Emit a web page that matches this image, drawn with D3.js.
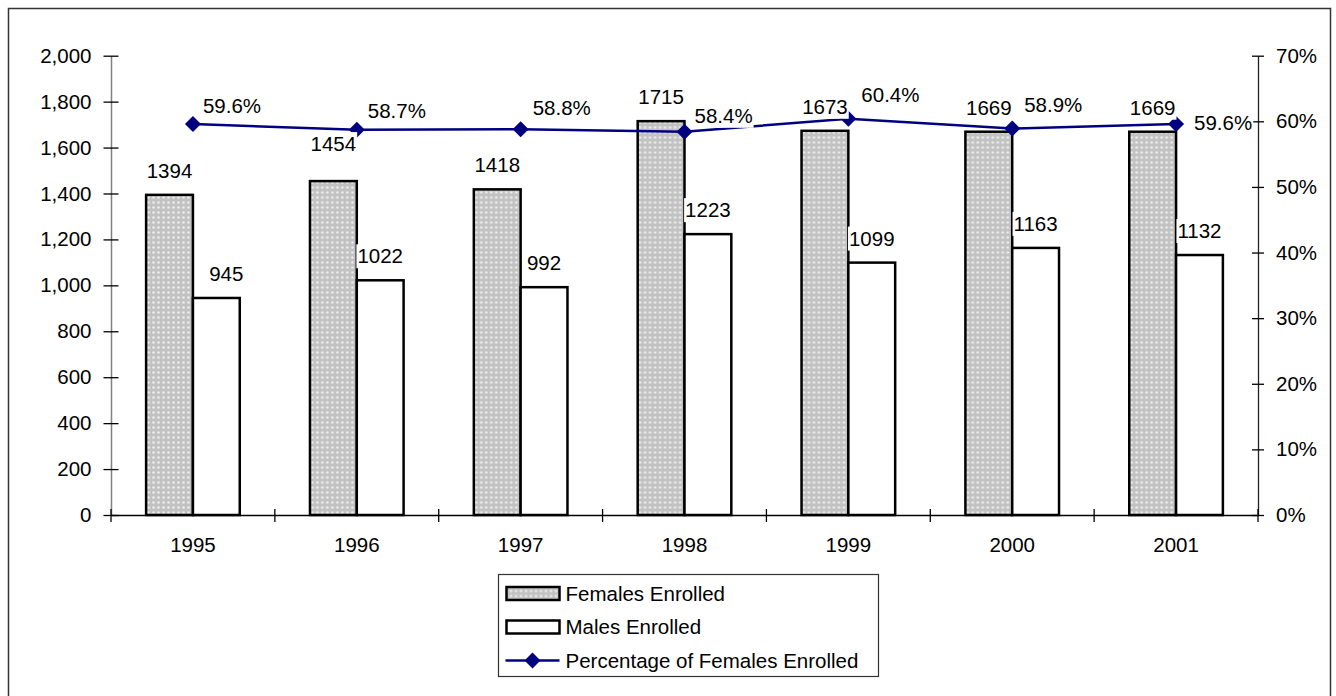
<!DOCTYPE html>
<html lang="en">
<head>
<meta charset="UTF-8">
<script src="https://d3js.org/d3.v7.min.js"></script>
<style>
body {
  margin: 0;
  background: white;
}
text {
  font-family: "Liberation Sans", Arial, sans-serif;
  font-size: 20.5px;
  fill: black;
}
</style>
</head>
<body>
<div id="chart"></div>
<script>

// data
var years = ["1995", "1996", "1997", "1998", "1999", "2000", "2001"];
var females = [1394, 1454, 1418, 1715, 1673, 1669, 1669];
var males = [945, 1022, 992, 1223, 1099, 1163, 1132];
var pctFemales = [59.6, 58.7, 58.8, 58.4, 60.4, 58.9, 59.6];
var leftTicks = [0, 200, 400, 600, 800, 1000, 1200, 1400, 1600, 1800, 2000];
var rightTicks = [0, 10, 20, 30, 40, 50, 60, 70];
var legendNames = ["Females Enrolled", "Males Enrolled", "Percentage of Females Enrolled"];

// hand moved labels in the original (index -> [dx, dy])
var femaleNudge = {1: [0, -13]};
var maleNudge = {0: [10, 0]};
var pctNudge = [[10, -11], [11, -12], [12, -14], [10, -9], [13, -17], [12, -17], [18, 6]];

var W = 1336, H = 696;
var plot = {left: 111, right: 1258, top: 55.7, bottom: 515};

var svg = d3.select("#chart").append("svg")
    .attr("width", W)
    .attr("height", H);

var defs = svg.append("defs");
var pat = defs.append("pattern")
    .attr("id", "dots")
    .attr("patternUnits", "userSpaceOnUse")
    .attr("width", 5)
    .attr("height", 5);
pat.append("rect").attr("width", 5).attr("height", 5).attr("fill", "#c2c2c2");
pat.append("circle").attr("cx", 2.5).attr("cy", 2.5).attr("r", 1.3).attr("fill", "#ededed");

// outer frame
svg.append("rect")
    .attr("x", 8.5).attr("y", 8.5)
    .attr("width", 1322).attr("height", 700)
    .attr("fill", "white")
    .attr("stroke", "#333")
    .attr("stroke-width", 1.5);

var x = d3.scaleBand().domain(years).range([plot.left, plot.right]).padding(0);
var x1 = d3.scaleBand().domain(["f", "m"]).range([0, x.bandwidth()]).paddingInner(0).paddingOuter(0.75);
var y = d3.scaleLinear().domain([0, 2000]).range([plot.bottom, plot.top]);
var y2 = d3.scaleLinear().domain([0, 70]).range([plot.bottom, plot.top]);

// bars
var groups = svg.append("g").selectAll("g")
    .data(years)
    .join("g")
    .attr("transform", function(d) { return "translate(" + x(d) + ",0)"; });

groups.append("rect")
    .attr("x", x1("f"))
    .attr("y", function(d, i) { return y(females[i]); })
    .attr("width", x1.bandwidth())
    .attr("height", function(d, i) { return y(0) - y(females[i]); })
    .attr("fill", "url(#dots)")
    .attr("stroke", "black")
    .attr("stroke-width", 2.5);

groups.append("rect")
    .attr("x", x1("m"))
    .attr("y", function(d, i) { return y(males[i]); })
    .attr("width", x1.bandwidth())
    .attr("height", function(d, i) { return y(0) - y(males[i]); })
    .attr("fill", "white")
    .attr("stroke", "black")
    .attr("stroke-width", 2.5);

// left axis
var yAxis = svg.append("g")
    .attr("transform", "translate(" + plot.left + ",0)")
    .call(d3.axisLeft(y).tickValues(leftTicks).tickFormat(d3.format(",")).tickSize(7.5).tickSizeOuter(0).tickPadding(12));
yAxis.select(".domain").attr("stroke", "#808080").attr("stroke-width", 1.5);
yAxis.selectAll(".tick line").attr("x1", -7.5).attr("x2", 7.5).attr("stroke", "black").attr("stroke-width", 1.3);
yAxis.selectAll(".tick text").style("font-size", "20.5px").style("font-family", "Liberation Sans, Arial, sans-serif");

// right axis
var y2Axis = svg.append("g")
    .attr("transform", "translate(" + plot.right + ",0)")
    .call(d3.axisRight(y2).tickValues(rightTicks).tickFormat(function(d) { return d + "%"; }).tickSize(6).tickSizeOuter(0).tickPadding(12));
y2Axis.select(".domain").attr("stroke", "#222").attr("stroke-width", 1.3);
y2Axis.selectAll(".tick line").attr("x1", -6).attr("x2", 6).attr("stroke", "black").attr("stroke-width", 1.3);
y2Axis.selectAll(".tick text").style("font-size", "20.5px").style("font-family", "Liberation Sans, Arial, sans-serif");

// bottom axis
var xAxis = svg.append("g")
    .attr("transform", "translate(0," + plot.bottom + ")")
    .call(d3.axisBottom(x).tickSize(0).tickPadding(22));
xAxis.select(".domain").attr("stroke", "black").attr("stroke-width", 1.3);
xAxis.selectAll(".tick text").style("font-size", "20.5px").style("font-family", "Liberation Sans, Arial, sans-serif");

var bounds = years.map(function(d) { return x(d); }).concat([x(years[years.length - 1]) + x.bandwidth()]);
xAxis.selectAll(".cat-tick")
    .data(bounds)
    .join("line")
    .attr("class", "cat-tick")
    .attr("x1", function(d) { return d; })
    .attr("x2", function(d) { return d; })
    .attr("y1", -6)
    .attr("y2", 7)
    .attr("stroke", "black")
    .attr("stroke-width", 1.3);

// percentage line
var cx = function(i) { return x(years[i]) + x.bandwidth() / 2; };
var line = d3.line()
    .x(function(d, i) { return cx(i); })
    .y(function(d) { return y2(d); });

svg.append("path")
    .datum(pctFemales)
    .attr("d", line)
    .attr("fill", "none")
    .attr("stroke", "#000080")
    .attr("stroke-width", 2.5);

var diamond = d3.symbol().type(d3.symbolSquare).size(128);
svg.append("g").selectAll("path")
    .data(pctFemales)
    .join("path")
    .attr("d", diamond)
    .attr("transform", function(d, i) { return "translate(" + cx(i) + "," + y2(d) + ") rotate(45)"; })
    .attr("fill", "#000080");

// data labels with white backing
var labels = svg.append("g");
function addLabel(px, py, str, anchor) {
  var g = labels.append("g");
  var t = g.append("text")
      .attr("x", px)
      .attr("y", py)
      .attr("text-anchor", anchor)
      .text(str);
  var b = t.node().getBBox();
  g.insert("rect", "text")
      .attr("x", b.x - 1)
      .attr("y", b.y)
      .attr("width", b.width + 2)
      .attr("height", b.height + 1)
      .attr("fill", "white");
}

years.forEach(function(d, i) {
  var fn = femaleNudge[i] || [0, 0];
  addLabel(x(d) + x1("f") + x1.bandwidth() / 2 + fn[0], y(females[i]) - 17 + fn[1], String(females[i]), "middle");
  var mn = maleNudge[i] || [0, 0];
  addLabel(x(d) + x1("m") + x1.bandwidth() / 2 + mn[0], y(males[i]) - 17 + mn[1], String(males[i]), "middle");
});

pctFemales.forEach(function(v, i) {
  addLabel(cx(i) + pctNudge[i][0], y2(v) + pctNudge[i][1], v.toFixed(1) + "%", "start");
});

// legend
var lg = svg.append("g").attr("transform", "translate(498.5,574.5)");
lg.append("rect")
    .attr("width", 380)
    .attr("height", 102)
    .attr("fill", "white")
    .attr("stroke", "#333")
    .attr("stroke-width", 1.2);

var rows = lg.selectAll(".row")
    .data(legendNames)
    .join("g")
    .attr("class", "row")
    .attr("transform", function(d, i) { return "translate(0," + (19 + i * 33.5) + ")"; });

rows.filter(function(d, i) { return i < 2; })
    .append("rect")
    .attr("x", 8)
    .attr("y", -6.5)
    .attr("width", 53)
    .attr("height", 13)
    .attr("fill", function(d, i) { return i === 0 ? "url(#dots)" : "white"; })
    .attr("stroke", "black")
    .attr("stroke-width", 2.5);

var lineRow = rows.filter(function(d, i) { return i === 2; });
lineRow.append("line")
    .attr("x1", 7).attr("x2", 61)
    .attr("stroke", "#000080")
    .attr("stroke-width", 2.5);
lineRow.append("path")
    .attr("d", diamond)
    .attr("transform", "translate(34,0) rotate(45)")
    .attr("fill", "#000080");

rows.append("text")
    .attr("x", 67)
    .attr("y", 7)
    .text(function(d) { return d; });

</script>
</body>
</html>
